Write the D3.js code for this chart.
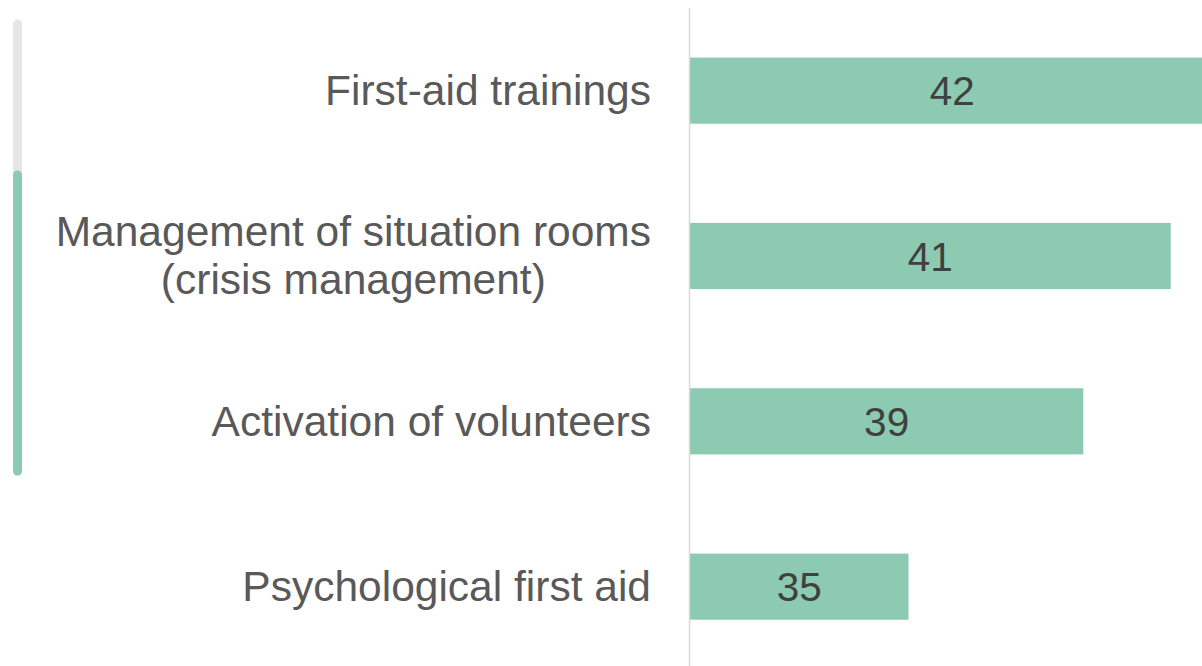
<!DOCTYPE html>
<html>
<head>
<meta charset="utf-8">
<script src="https://cdn.jsdelivr.net/npm/d3@7"></script>
<style>
  body { margin: 0; background: #fff; }
  svg { display: block; }
</style>
</head>
<body>
<svg id="chart" width="1202" height="666"></svg>
<script>
// data
const categories = [
  ['First-aid trainings'],
  ['Management of situation rooms', '(crisis management)'],
  ['Activation of volunteers'],
  ['Psychological first aid']
];
const values = [42, 41, 39, 35];

const FONT = "'Liberation Sans', Arimo, Arial, Helvetica, sans-serif";
const svg = d3.select('#chart');
const W = 1202, H = 666;
const rows = categories.map((c, i) => ({ lines: c, key: c.join(' '), value: values[i] }));

const x = d3.scaleLinear().domain([30, 42]).range([690, 690 + 12 * 43.7]);
const y = d3.scaleBand()
  .domain(rows.map(d => d.key))
  .range([8, 669.3])
  .paddingInner(0.6)
  .paddingOuter(0.3);

// scrollbar on the left
svg.append('line')
  .attr('x1', 17.5).attr('x2', 17.5).attr('y1', 24).attr('y2', 471)
  .attr('stroke', '#e6e6e6').attr('stroke-width', 9).attr('stroke-linecap', 'round');
svg.append('line')
  .attr('x1', 17.5).attr('x2', 17.5).attr('y1', 175).attr('y2', 471)
  .attr('stroke', '#8ccbb2').attr('stroke-width', 9).attr('stroke-linecap', 'round');

// bars
svg.append('g').selectAll('rect').data(rows).enter().append('rect')
  .attr('x', x(30))
  .attr('y', d => y(d.key))
  .attr('width', d => x(d.value) - x(30))
  .attr('height', y.bandwidth())
  .attr('fill', '#8ccbb2');

// axis line
svg.append('line')
  .attr('x1', 689.5).attr('x2', 689.5).attr('y1', 8).attr('y2', H)
  .attr('stroke', '#d9d9d9').attr('stroke-width', 1.5);

// value labels
svg.append('g').selectAll('text').data(rows).enter().append('text')
  .attr('x', d => (x(30) + x(d.value)) / 2)
  .attr('y', d => y(d.key) + y.bandwidth() / 2)
  .attr('dy', '0.36em')
  .attr('text-anchor', 'middle')
  .attr('font-family', FONT)
  .attr('font-size', 40.5)
  .attr('fill', '#404040')
  .text(d => d.value);

// category labels (multi-line ones centred under the first line)
const lab = svg.append('g').selectAll('g').data(rows).enter().append('g');
lab.each(function(d) {
  const g = d3.select(this);
  const n = d.lines.length;
  const base = y(d.key) + y.bandwidth() / 2 - (n - 1) * 24 + 14.5;
  const first = g.append('text')
    .attr('x', 651)
    .attr('y', base)
    .attr('text-anchor', 'end')
    .attr('font-family', FONT)
    .attr('font-size', 42.5)
    .attr('fill', '#595959')
    .text(d.lines[0]);
  const w = first.node().getComputedTextLength();
  d.lines.slice(1).forEach((s, i) => {
    g.append('text')
      .attr('x', 651 - w / 2)
      .attr('y', base + 48 * (i + 1))
      .attr('text-anchor', 'middle')
      .attr('font-family', FONT)
      .attr('font-size', 42.5)
      .attr('fill', '#595959')
      .text(s);
  });
});
</script>
</body>
</html>
